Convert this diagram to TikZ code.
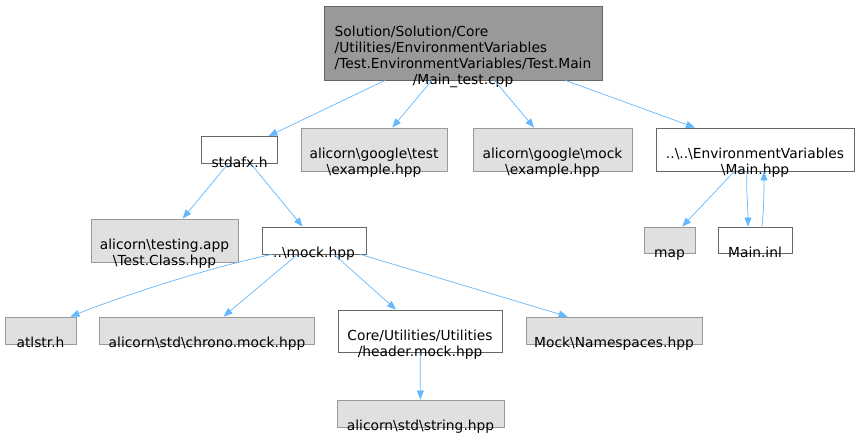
\documentclass[tikz,border=0pt]{standalone}
\usepackage{fontspec}
\setmainfont{DejaVu Sans}
\usetikzlibrary{arrows.meta}
\definecolor{edgeblue}{HTML}{63B8FF}
\definecolor{dgray}{HTML}{666666}
\definecolor{mgray}{HTML}{999999}
\definecolor{lgray}{HTML}{E0E0E0}
% labels sit low in their boxes, as in the doxygen graph
\newcommand{\low}[1]{\raisebox{-17.5pt}[0pt][0pt]{\begin{tabular}{@{}c@{}}#1\end{tabular}}}
\newcommand{\lowl}[1]{\raisebox{-17.5pt}[0pt][0pt]{\begin{tabular}{@{}l@{}}#1\end{tabular}}}
\newcommand{\bs}{\textbackslash}

\begin{document}
\begin{tikzpicture}[
  x=1pt,y=-1pt,
  font=\fontsize{13.8}{16}\selectfont,
  file/.style={draw=dgray,fill=white,line width=.8pt,inner sep=0pt},
  ext/.style={draw=mgray,fill=lgray,line width=.8pt,inner sep=0pt},
  inc/.style={draw=edgeblue,line width=.7pt,-{Triangle[length=9pt,width=7pt]}}
]
  \useasboundingbox (0,0) rectangle (860,432);

  \node[file,fill=mgray,minimum width=278pt,minimum height=74pt] (main) at (463,43)
    {\lowl{Solution/Solution/Core\\/Utilities/EnvironmentVariables\\/Test.EnvironmentVariables/Test.Main\\\multicolumn{1}{@{}c@{}}{/Main\_test.cpp}}};

  \node[file,minimum width=76pt,minimum height=27pt] (stdafx) at (239.5,150) {\low{stdafx.h}};
  \node[ext,minimum width=146pt,minimum height=43pt] (gtest) at (374,149.5) {\low{alicorn\bs google\bs test\\\bs example.hpp}};
  \node[ext,minimum width=159pt,minimum height=43pt] (gmock) at (552.5,149.5) {\low{alicorn\bs google\bs mock\\\bs example.hpp}};
  \node[file,minimum width=198pt,minimum height=43pt] (mainhpp) at (755,149.5) {\low{..\bs..\bs EnvironmentVariables\\\bs Main.hpp}};

  \node[ext,minimum width=147pt,minimum height=43pt] (testclass) at (164.5,240.5) {\low{alicorn\bs testing.app\\\bs Test.Class.hpp}};
  \node[file,minimum width=104pt,minimum height=27pt] (mockhpp) at (314,240.5) {\low{..\bs mock.hpp}};
  \node[ext,minimum width=51pt,minimum height=26pt] (map) at (669.5,240) {\low{map}};
  \node[file,minimum width=74pt,minimum height=26pt] (mainin) at (755,240) {\low{Main.inl}};

  \node[ext,minimum width=71pt,minimum height=27pt] (atlstr) at (40.5,330.5) {\low{atlstr.h}};
  \node[ext,minimum width=215pt,minimum height=27pt] (chrono) at (207,330.5) {\low{alicorn\bs std\bs chrono.mock.hpp}};
  \node[file,minimum width=164pt,minimum height=42pt] (headermock) at (420,331) {\low{Core/Utilities/Utilities\\/header.mock.hpp}};
  \node[ext,minimum width=176pt,minimum height=27pt] (namespaces) at (614,330.5) {\low{Mock\bs Namespaces.hpp}};
  \node[ext,minimum width=167pt,minimum height=27pt] (stringh) at (420.5,413.5) {\low{alicorn\bs std\bs string.hpp}};

  \draw[inc] (main) -- (stdafx);
  \draw[inc] (main) -- (gtest);
  \draw[inc] (main) -- (gmock);
  \draw[inc] (main) -- (mainhpp);
  \draw[inc] (stdafx) -- (testclass);
  \draw[inc] (stdafx) -- (mockhpp);
  \draw[inc] (mainhpp) -- (map);
  \draw[inc] ([xshift=-8pt]mainhpp.south) .. controls +(-1,20) and +(0,-20) .. ([xshift=-7pt]mainin.north);
  \draw[inc] ([xshift=7pt]mainin.north) .. controls +(2,-20) and +(0,20) .. ([xshift=9pt]mainhpp.south);
  \draw[inc] ([xshift=10pt]mockhpp.south west) .. controls +(-70,15) and +(45,-18) .. ([xshift=-6pt]atlstr.north east);
  \draw[inc] (mockhpp) -- (chrono);
  \draw[inc] ([xshift=20pt]mockhpp.south) -- (headermock);
  \draw[inc] (mockhpp) -- (namespaces);
  \draw[inc] (headermock) -- (stringh);
\end{tikzpicture}
\end{document}
